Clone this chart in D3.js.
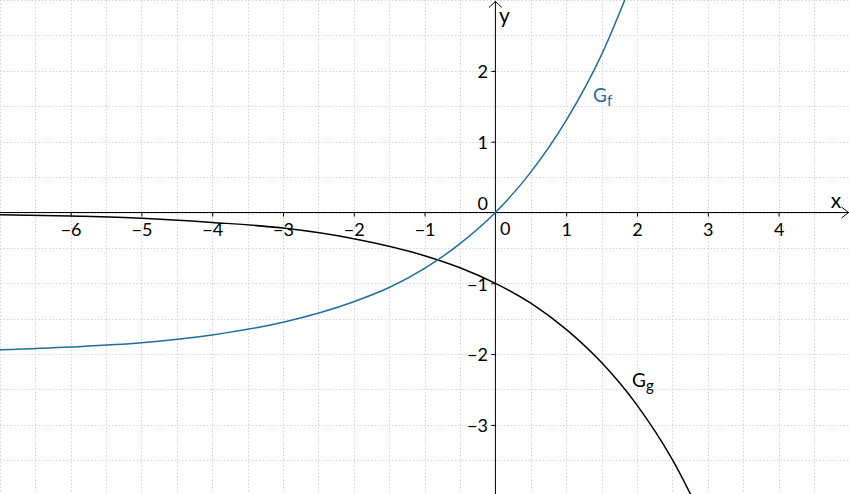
<!DOCTYPE html>
<html>
<head>
<meta charset="utf-8">
<script src="https://cdn.jsdelivr.net/npm/d3@7"></script>
<style>
  body { margin: 0; background: #fff; }
  svg { display: block; font-family: Lato, sans-serif; }
  .grid line { stroke: #d6d6d6; stroke-width: 1; stroke-dasharray: 1.5,2; }
</style>
</head>
<body>
<div id="chart-area"></div>
<script>
// values
var xTicks = [-6, -5, -4, -3, -2, -1, 1, 2, 3, 4];
var yTicks = [-3, -2, -1, 1, 2];

// G_f
var fX = [-7, -6, -5, -4, -3, -2, -1.5, -1, -0.5, 0, 0.5, 1, 1.5, 2];
var fY = [-1.94, -1.90, -1.84, -1.73, -1.55, -1.26, -1.06, -0.79, -0.44, 0, 0.57, 1.30, 2.23, 3.44];

// G_g
var gX = [-7, -6, -5, -4, -3, -2, -1, -0.5, 0, 0.5, 1, 1.5, 2, 2.5, 3];
var gY = [-0.03, -0.05, -0.08, -0.14, -0.22, -0.37, -0.61, -0.78, -1, -1.28, -1.65, -2.12, -2.72, -3.49, -4.48];

var width = 849, height = 494;
var blue = "#1f6e9e";
var fontSize = "18px";

var svg = d3.select("#chart-area")
  .append("svg")
  .attr("width", width)
  .attr("height", height);

var x = d3.scaleLinear().domain([-7, 5]).range([-0.2, 849.4]);
var y = d3.scaleLinear().domain([3, -4]).range([0.1, 495.7]);

/* dotted grid every half unit */
var grid = svg.append("g").attr("class", "grid");
grid.selectAll("line.v")
  .data(d3.range(-7, 5.01, 0.5)).enter()
  .append("line")
  .attr("x1", d => Math.round(x(d)) + 0.5)
  .attr("x2", d => Math.round(x(d)) + 0.5)
  .attr("y1", 0).attr("y2", height);
grid.selectAll("line.h")
  .data(d3.range(-4, 3.01, 0.5)).enter()
  .append("line")
  .attr("y1", d => Math.round(y(d)) + 0.5)
  .attr("y2", d => Math.round(y(d)) + 0.5)
  .attr("x1", 0).attr("x2", width);

/* axes */
var x0 = x(0), y0 = y(0);
var fmt = d3.format("d");

var xAxis = d3.axisBottom(x).tickValues(xTicks).tickFormat(fmt).tickSize(4).tickPadding(6.5);
var xAxisGroup = svg.append("g")
  .attr("transform", "translate(0," + y0 + ")")
  .call(xAxis);

var yAxis = d3.axisLeft(y).tickValues(yTicks).tickFormat(fmt).tickSize(4).tickPadding(3.5);
var yAxisGroup = svg.append("g")
  .attr("transform", "translate(" + x0 + ",0)")
  .call(yAxis);

[xAxisGroup, yAxisGroup].forEach(function (g) {
  g.select(".domain").remove();
  g.selectAll(".tick line").attr("stroke", "#000");
  g.selectAll(".tick text")
    .attr("fill", "#000")
    .style("font-size", fontSize)
    .style("font-family", "Lato, sans-serif");
});
yAxisGroup.selectAll(".tick text").attr("dy", "0.38em");

// axis lines
svg.append("line")
  .attr("x1", 0).attr("x2", width)
  .attr("y1", y0).attr("y2", y0)
  .attr("stroke", "#000").attr("stroke-width", 1);
svg.append("line")
  .attr("x1", x0).attr("x2", x0)
  .attr("y1", 1).attr("y2", height)
  .attr("stroke", "#000").attr("stroke-width", 1);

// open arrow heads
svg.append("path")
  .attr("d", "M" + (width - 7.5) + "," + (y0 - 5.5) + "L" + (width - 0.5) + "," + y0 + "L" + (width - 7.5) + "," + (y0 + 5.5))
  .attr("fill", "none").attr("stroke", "#000");
svg.append("path")
  .attr("d", "M" + (x0 - 6.5) + ",7.5L" + x0 + ",1.5L" + (x0 + 6.5) + ",7.5")
  .attr("fill", "none").attr("stroke", "#000");

// zero labels and axis names
svg.append("text")
  .attr("x", x0 - 7.5).attr("y", y0 - 2.5)
  .attr("text-anchor", "end")
  .style("font-size", fontSize)
  .text("0");
svg.append("text")
  .attr("x", x0 + 4.5).attr("y", y0 + 22.5)
  .style("font-size", fontSize)
  .text("0");
svg.append("text")
  .attr("x", width - 13).attr("y", y0 - 4.5)
  .attr("text-anchor", "middle")
  .style("font-size", "21px")
  .text("x");
svg.append("text")
  .attr("x", x0 + 9).attr("y", 23)
  .attr("text-anchor", "middle")
  .style("font-size", "21px")
  .text("y");

/* curves */
var line = d3.line()
  .x(d => x(d[0]))
  .y(d => y(d[1]))
  .curve(d3.curveMonotoneX);

svg.append("path")
  .datum(d3.zip(gX, gY))
  .attr("d", line)
  .attr("fill", "none")
  .attr("stroke", "#000")
  .attr("stroke-width", 1.5);

svg.append("path")
  .datum(d3.zip(fX, fY))
  .attr("d", line)
  .attr("fill", "none")
  .attr("stroke", blue)
  .attr("stroke-width", 1.5);

/* graph names */
var fLabel = svg.append("text")
  .attr("x", x(1.38)).attr("y", y(1.56))
  .attr("fill", blue)
  .style("font-size", "19px");
fLabel.append("tspan").text("G");
fLabel.append("tspan").attr("dy", 4).style("font-size", "15px").text("f");

var gLabel = svg.append("text")
  .attr("x", x(1.93)).attr("y", y(-2.46))
  .attr("fill", "#000")
  .style("font-size", "19px");
gLabel.append("tspan").text("G");
gLabel.append("tspan").attr("dy", 4).style("font-size", "15px").text("g");
</script>
</body>
</html>
